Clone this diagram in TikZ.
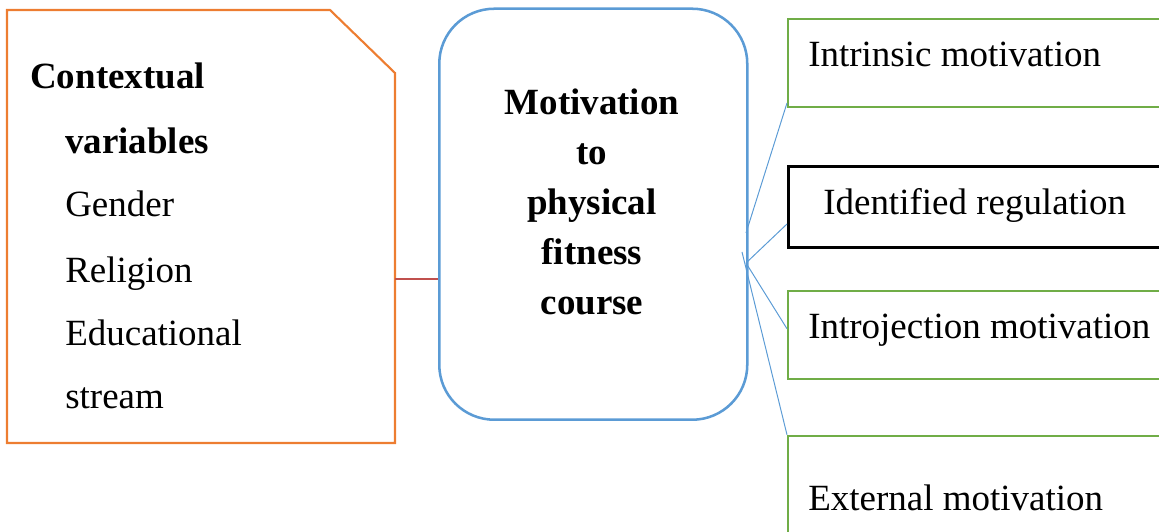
\documentclass[tikz,border=0pt]{standalone}
\usepackage{fontspec}
\setmainfont{Liberation Serif}
\usetikzlibrary{calc}
\definecolor{boxorange}{RGB}{237,125,49}
\definecolor{boxblue}{RGB}{91,155,213}
\definecolor{boxgreen}{RGB}{112,173,71}
\definecolor{linkred}{RGB}{192,80,77}
\tikzset{
	bigfont/.style={font=\fontsize{26.3}{35.6}\selectfont},
	vartext/.style={bigfont, inner sep=0, anchor=base west},
	sidebox/.style={line width=1.6pt, minimum width=10.325cm, inner sep=0, anchor=south west},
	link/.style={line width=0.7pt, color=boxblue}
}

\begin{document}
\begin{tikzpicture}
		%%%%% START %%%%%
		
		\clip (0, 0) rectangle (28.975, 13.275);
		
		% left box with the cut corner
		\draw[line width=1.5pt, color=boxorange] (0.175, 2.2) -- (0.175, 13.025) -- (8.25, 13.025) -- (9.875, 11.45) -- (9.875, 2.2) -- cycle;
		\coordinate (ctxport) at (9.875, 6.3);
		
		\node[vartext, font=\fontsize{26.3}{35.6}\selectfont\bfseries] (ctx) at (0.75, 11.05) {Contextual};
		\node[vartext, font=\fontsize{26.3}{35.6}\selectfont\bfseries] (vars) at (1.625, 9.43) {variables};
		\node[vartext] (gender) at (1.625, 7.85) {Gender};
		\node[vartext] (religion) at (1.625, 6.2) {Religion};
		\node[vartext] (educ) at (1.625, 4.63) {Educational};
		\node[vartext] (stream) at (1.625, 3.05) {stream};
		
		% middle box
		\node[draw=boxblue, line width=1.8pt, rounded corners=1.375cm, minimum width=7.7cm, minimum height=10.275cm, anchor=south west] (motiv) at (10.95, 2.75) {};
		\node[bigfont, font=\fontsize{26.3}{35.6}\selectfont\bfseries, align=center, inner sep=0] (motivtext) at (14.8, 8.22) {Motivation\\to\\physical\\fitness\\course};
		
		\draw[line width=1pt, color=linkred] (ctxport) -- (motiv.west |- ctxport);
		
		% right column
		\node[sidebox, draw=boxgreen, minimum height=2.2cm] (intrinsicbox) at (19.675, 10.575) {};
		\node[sidebox, draw=black, line width=2pt, minimum height=2.025cm] (identifiedbox) at (19.675, 7.05) {};
		\node[sidebox, draw=boxgreen, minimum height=2.2cm] (introjbox) at (19.675, 3.775) {};
		\node[sidebox, draw=boxgreen, minimum height=2.85cm] (externalbox) at (19.675, -0.5) {};
		
		\node[vartext] (intrinsic) at (20.2, 11.62) {Intrinsic motivation};
		\node[vartext] (identified) at (20.575, 7.9) {Identified regulation};
		\node[vartext] (introj) at (20.2, 4.82) {Introjection motivation};
		\node[vartext] (external) at (20.2, 0.52) {External motivation};
		
		% thin links fanning out
		\coordinate (hub) at (18.65, 6.7);
		\coordinate (hubtop) at (18.65, 7.45);
		\coordinate (hubstub) at (18.55, 6.975);
		\draw[link] (hubtop) -- ($(intrinsicbox.south west)+(0, 0.125)$);
		\draw[link] (hub) -- ($(identifiedbox.south west)+(0, 0.625)$);
		\draw[link] (hub) -- ($(introjbox.north west)+(0, -0.975)$);
		\draw[link] (hubstub) -- (externalbox.north west);
		
		%%%%% END %%%%%
	\end{tikzpicture}
\end{document}
